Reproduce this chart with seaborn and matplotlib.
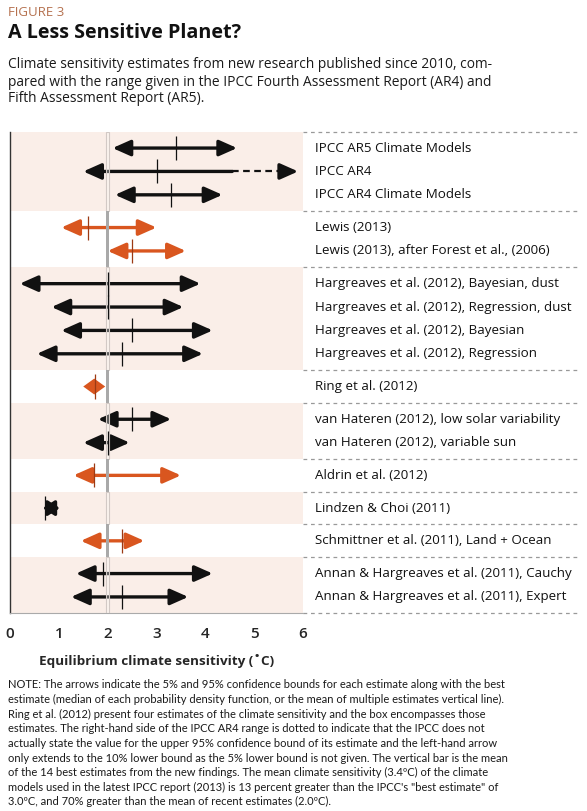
import numpy as np
import pandas as pd
import seaborn as sns
import matplotlib.pyplot as plt
from matplotlib.transforms import blended_transform_factory

sns.set_theme(style="white")
plt.rcParams['font.family'] = ['Open Sans', 'DejaVu Sans']

# ---- data ----
groups = [
    ["IPCC AR5 Climate Models", "IPCC AR4", "IPCC AR4 Climate Models"],
    ["Lewis (2013)", "Lewis (2013), after Forest et al., (2006)"],
    ["Hargreaves et al. (2012), Bayesian, dust", "Hargreaves et al. (2012), Regression, dust",
     "Hargreaves et al. (2012), Bayesian", "Hargreaves et al. (2012), Regression"],
    ["Ring et al. (2012)"],
    ["van Hateren (2012), low solar variability", "van Hateren (2012), variable sun"],
    ["Aldrin et al. (2012)"],
    ["Lindzen & Choi (2011)"],
    ["Schmittner et al. (2011), Land + Ocean"],
    ["Annan & Hargreaves et al. (2011), Cauchy", "Annan & Hargreaves et al. (2011), Expert"],
]
low = [2.1, 1.5, 2.15, 1.05, 2.0, 0.2, 0.85, 1.05, 0.55, 1.5, 1.8, 1.5, 1.3, 0.67, 1.45, 1.35, 1.25]
best = [3.4, 3.0, 3.3, 1.6, 2.5, 2.0, 2.0, 2.5, 2.3, 1.74, 2.5, 2.0, 1.72, 0.72, 2.3, 1.9, 2.3]
high = [4.65, 5.9, 4.35, 3.0, 3.6, 3.9, 3.55, 4.15, 3.95, 1.95, 3.3, 2.45, 3.5, 1.02, 2.75, 4.15, 3.65]
new_study = [0, 0, 0, 1, 1, 0, 0, 0, 0, 1, 0, 0, 1, 0, 1, 0, 0]
ar4_solid_end = 4.55
recent_mean = 2.0

BLACK = "#111111"
ORANGE = "#d9561f"
ORANGE_DARK = "#9c3a14"
SHADE = "#faeee8"

# row positions: one unit per row, small padding per band
pad = 0.2
rows, bands = [], []
cur = 0.0
for g in groups:
    top = cur
    cur += pad
    for name in g:
        rows.append((name, cur + 0.5))
        cur += 1
    cur += pad
    bands.append((top, cur))
total = cur

df = pd.DataFrame({
    "label": [r[0] for r in rows],
    "y": [r[1] for r in rows],
    "low": low, "best": best, "high": high, "new": new_study,
})

fig = plt.figure(figsize=(5.87, 8.11), dpi=100)
W, H = 587, 811
ax = fig.add_axes([10 / W, 1 - 613.3 / H, 293 / W, 481.6 / H])
ax.set_xlim(0, 6)
ax.set_ylim(total, 0)

trans = blended_transform_factory(ax.transAxes, ax.transData)
for i, (t, b) in enumerate(bands):
    if i % 2 == 0:
        ax.axhspan(t, b, color=SHADE, zorder=0, lw=0)
        ax.add_patch(plt.Rectangle((recent_mean - 0.035, t), 0.07, b - t, facecolor=(1, 1, 1, 0.3),
                                   edgecolor="#d2c9c5", lw=0.8, zorder=6))
    else:
        ax.add_patch(plt.Rectangle((recent_mean - 0.035, t), 0.07, b - t, facecolor="#a9a9a9",
                                   edgecolor="none", zorder=6))
    ax.plot([1.0, 1.935], [t, t], transform=trans, clip_on=False, color="#999999",
            lw=0.9, ls=(0, (3, 3)))
ax.plot([1.0, 1.935], [total, total], transform=trans, clip_on=False, color="#999999",
        lw=0.9, ls=(0, (3, 3)))

arrow_both = dict(arrowstyle="<|-|>,head_length=1.08,head_width=0.48", mutation_scale=10,
                  lw=2.4, shrinkA=0, shrinkB=0)
arrow_one = dict(arrowstyle="-|>,head_length=1.08,head_width=0.48", mutation_scale=10,
                 lw=2.4, shrinkA=0, shrinkB=0)

for _, r in df.iterrows():
    col = ORANGE if r["new"] else BLACK
    y = r["y"]
    if r["label"] == "IPCC AR4":
        ax.annotate("", xy=(r["low"], y), xytext=(ar4_solid_end, y),
                    arrowprops=dict(color=col, **arrow_one), zorder=3)
        ax.plot([ar4_solid_end, r["high"] - 0.25], [y, y], color=col, lw=1.6,
                ls=(0, (3, 2)), zorder=3)
        ax.annotate("", xy=(r["high"], y), xytext=(r["high"] - 0.3, y),
                    arrowprops=dict(color=col, **arrow_one), zorder=3)
    elif r["label"] == "Ring et al. (2012)":
        mid = (r["low"] + r["high"]) / 2
        ax.fill([r["low"], mid, r["high"], mid], [y, y - 0.34, y, y + 0.34],
                color=col, lw=0, zorder=3)
    elif r["label"] == "Lindzen & Choi (2011)":
        ax.annotate("", xy=(r["low"], y), xytext=(r["high"], y),
                    arrowprops=dict(color=col, arrowstyle="<|-|>,head_length=0.7,head_width=0.45",
                                    mutation_scale=10, lw=2.4, shrinkA=0, shrinkB=0), zorder=3)
    else:
        ax.annotate("", xy=(r["low"], y), xytext=(r["high"], y),
                    arrowprops=dict(color=col, **arrow_both), zorder=3)

df["tick_color"] = np.where(df["new"] == 1, "orange", "black")
sns.scatterplot(data=df, x="best", y="y", hue="tick_color",
                palette={"orange": ORANGE_DARK, "black": BLACK},
                marker="|", s=300, linewidth=0.9, legend=False, ax=ax, zorder=7)

for _, r in df.iterrows():
    ax.text(1.04, r["y"], r["label"], transform=trans, va="center", ha="left",
            fontsize=9.6, color="#111111", clip_on=False)

# axes styling
for s in ["top", "right"]:
    ax.spines[s].set_visible(False)
ax.spines["left"].set_color("#333333")
ax.spines["left"].set_linewidth(1.0)
ax.spines["bottom"].set_color("#aaaaaa")
ax.spines["bottom"].set_linewidth(0.8)
ax.set_xticks(range(0, 7))
ax.set_yticks([])
ax.tick_params(axis="x", direction="in", length=7, width=1, color="#111111",
               pad=10, labelsize=11)
for lbl in ax.get_xticklabels():
    lbl.set_fontweight("semibold")
ax.set_xlabel("Equilibrium climate sensitivity (˚C)", fontsize=9.7, fontweight="bold",
              labelpad=9)
ax.set_ylabel("")

# header
fig.text(8 / W, 1 - 12 / H, "FIGURE 3", fontsize=9.5, color="#b5714f", va="center", ha="left")
fig.text(8 / W, 1 - 33 / H, "A Less Sensitive Planet?", fontsize=14.2, fontweight="bold",
         va="center", ha="left", color="#111111")
sub = ["Climate sensitivity estimates from new research published since 2010, com-",
       "pared with the range given in the IPCC Fourth Assessment Report (AR4) and",
       "Fifth Assessment Report (AR5)."]
for i, line in enumerate(sub):
    fig.text(8 / W, 1 - (65 + i * 17) / H, line, fontsize=9.9, va="center", ha="left",
             color="#1a1a1a")

note = ["NOTE: The arrows indicate the 5% and 95% confidence bounds for each estimate along with the best",
        "estimate (median of each probability density function, or the mean of multiple estimates vertical line).",
        "Ring et al. (2012) present four estimates of the climate sensitivity and the box encompasses those",
        "estimates. The right-hand side of the IPCC AR4 range is dotted to indicate that the IPCC does not",
        "actually state the value for the upper 95% confidence bound of its estimate and the left-hand arrow",
        "only extends to the 10% lower bound as the 5% lower bound is not given. The vertical bar is the mean",
        "of the 14 best estimates from the new findings. The mean climate sensitivity (3.4ºC) of the climate",
        "models used in the latest IPCC report (2013) is 13 percent greater than the IPCC's \"best estimate\" of",
        "3.0ºC, and 70% greater than the mean of recent estimates (2.0ºC)."]
for i, line in enumerate(note):
    fig.text(8 / W, 1 - (685 + i * 14.6) / H, line, fontsize=8.0, va="center", ha="left",
             color="#1a1a1a", family=["Lato", "Open Sans", "DejaVu Sans"])

fig.savefig("out.png", dpi=100, facecolor="white")
